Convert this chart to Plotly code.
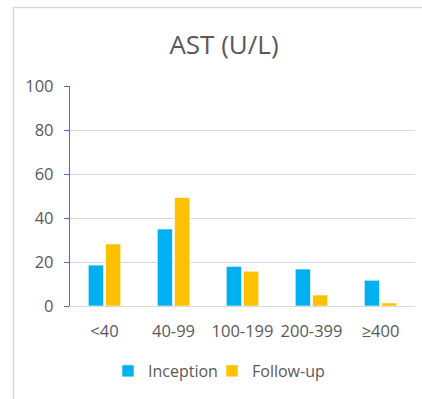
import plotly.graph_objects as go

# AST ranges (U/L) and percentage of patients per range
categories = ["<40", "40-99", "100-199", "200-399", "≥400"]
inception = [18.6, 35.0, 18.0, 16.8, 11.7]
follow_up = [28.2, 49.3, 15.8, 5.0, 1.4]
y_ticks = [0, 20, 40, 60, 80, 100]

W, H = 422, 399
L, R, T, B = 70, 7, 86, 93
pw, ph = W - L - R, H - T - B

def px_x(px):
    return (px - L) / pw

def px_y(py):
    return (H - B - py) / ph

text_color = "#595959"
font_family = "Open Sans, Noto Sans, sans-serif"

fig = go.Figure()
fig.add_trace(go.Bar(name="Inception", x=categories, y=inception, legend="legend",
                     marker=dict(color="#00B0F0", line=dict(color="white", width=0.6))))
fig.add_trace(go.Bar(name="Follow-up", x=categories, y=follow_up, legend="legend2",
                     marker=dict(color="#FFC000", line=dict(color="white", width=0.6))))

legend_style = dict(orientation="h", xanchor="left", y=px_y(371), yanchor="middle",
                    font=dict(size=16, color=text_color), itemwidth=30,
                    bgcolor="rgba(0,0,0,0)")

fig.update_layout(
    width=W, height=H,
    margin=dict(l=L, r=R, t=T, b=B),
    paper_bgcolor="white", plot_bgcolor="white",
    barmode="group", bargap=0.5, bargroupgap=0.12,
    font=dict(family=font_family, color=text_color, size=16),
    title=dict(text="AST (U/L)", x=px_x(224), xref="paper", xanchor="center",
               y=1 - 45 / H, yref="container", yanchor="middle",
               font=dict(size=26, color=text_color)),
    showlegend=True,
    legend=dict(x=px_x(108), **legend_style),
    legend2=dict(x=px_x(212), **legend_style),
    xaxis=dict(showline=False, ticks="", showgrid=False,
               tickfont=dict(size=16.5, color=text_color), ticklabelstandoff=13),
    yaxis=dict(range=[0, 100], tickvals=y_ticks, showgrid=True, gridcolor="#D9D9D9",
               gridwidth=1, zeroline=True, zerolinecolor="#D9D9D9", zerolinewidth=1,
               showline=True, linecolor="#4472C4", linewidth=1.3,
               ticks="outside", ticklen=5, tickcolor="#4472C4", tickwidth=1.3,
               tickfont=dict(size=16.5, color=text_color), ticklabelstandoff=7),
    shapes=[dict(type="path", xref="paper", yref="paper",
                 path=f"M {px_x(13.5)} {px_y(420)} L {px_x(13.5)} {px_y(7.5)} L {px_x(440)} {px_y(7.5)}",
                 line=dict(color="#D9D9D9", width=1.5), layer="below")],
)

fig.write_html("out.html")
